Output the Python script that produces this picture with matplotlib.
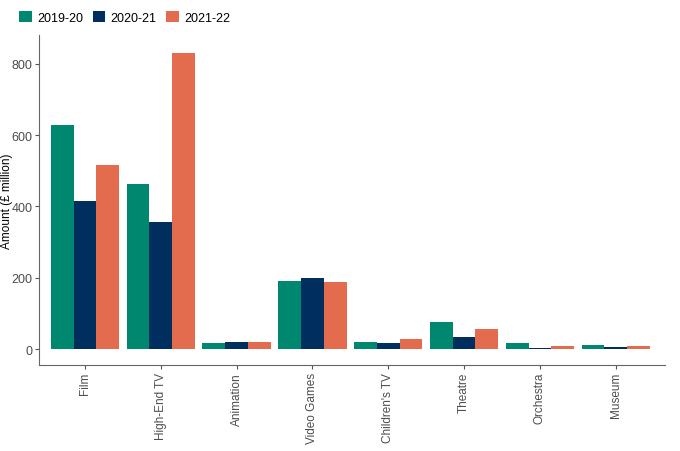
import numpy as np
import matplotlib.pyplot as plt

categories = ["Film", "High-End TV", "Animation", "Video Games", "Children's TV",
              "Theatre", "Orchestra", "Museum"]
years = ["2019-20", "2020-21", "2021-22"]
v1920 = [627, 464, 18, 190, 19, 77, 16, 12]
v2021 = [415, 357, 20, 200, 17, 34, 4, 7]
v2122 = [517, 829, 20, 188, 27, 55, 10, 8]
colors = ["#008770", "#002f5f", "#e36b4e"]

plt.rcParams['font.family'] = ['Liberation Sans', 'DejaVu Sans']
fig = plt.figure(figsize=(6.8, 4.52), dpi=100)
ax = fig.add_axes([0.058, 0.19, 0.92, 0.73])

x = np.arange(len(categories))
w = 0.3
for i, (vals, lab) in enumerate(zip([v1920, v2021, v2122], years)):
    ax.bar(x + (i - 1) * w, vals, w, color=colors[i], label=lab)

ax.set_xlim(-0.6, len(categories) - 0.35)
ax.set_ylim(-45, 880)
ax.set_yticks([0, 200, 400, 600, 800])
ax.set_xticks(x)
ax.set_xticklabels(categories, rotation=90)
ax.tick_params(colors="#555555", labelsize=9, labelcolor="#4d4d4d", length=3, pad=2)
ax.tick_params(axis="x", labelsize=8.5)
ax.set_ylabel("Amount (£ million)", fontsize=8.5)
ax.yaxis.set_label_coords(-0.043, 0.5)
for s in ["top", "right"]:
    ax.spines[s].set_visible(False)
for s in ["left", "bottom"]:
    ax.spines[s].set_color("#666666")

ax.legend(loc="lower left", bbox_to_anchor=(-0.04, 1.02), ncol=3, frameon=False,
          handlelength=1.0, handleheight=1.0, handletextpad=0.4, columnspacing=0.8,
          fontsize=9, borderaxespad=0)

fig.savefig("out.png", dpi=100)
